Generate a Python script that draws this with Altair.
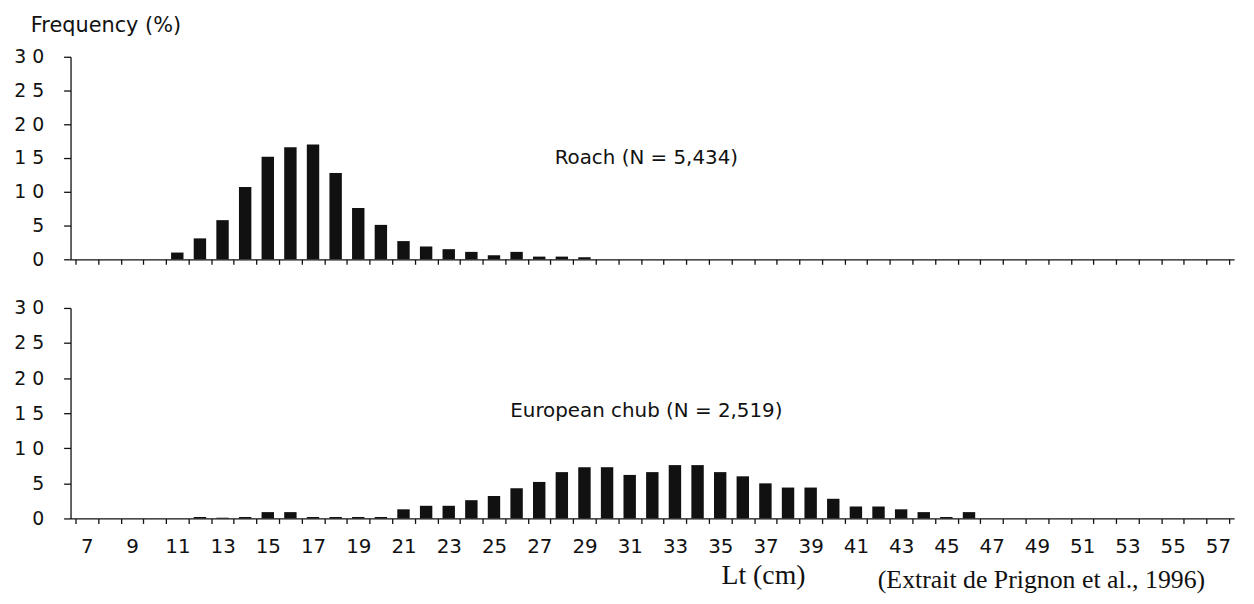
import altair as alt
import pandas as pd

# Length classes (Lt, cm)
lengths = list(range(7, 58))

# Roach frequencies (%) for classes 7..57
roach = [0, 0, 0, 0, 1.0, 3.1, 5.8, 10.7, 15.2, 16.6, 17.0, 12.8, 7.6, 5.1, 2.7,
         1.9, 1.5, 1.1, 0.6, 1.1, 0.4, 0.4, 0.3] + [0] * 28

# European chub frequencies (%) for classes 7..57
chub = [0, 0, 0, 0, 0, 0.2, 0.1, 0.2, 0.9, 0.9, 0.2, 0.2, 0.2, 0.2, 1.3, 1.8, 1.8,
        2.6, 3.2, 4.3, 5.2, 6.6, 7.3, 7.3, 6.2, 6.6, 7.6, 7.6, 6.6, 6.0, 5.0, 4.4,
        4.4, 2.8, 1.7, 1.7, 1.3, 0.9, 0.2, 0.9] + [0] * 11

y_ticks = [0, 5, 10, 15, 20, 25, 30]
class_edges = [v - 0.5 for v in lengths] + [lengths[-1] + 0.5]

roach_label = "Roach (N = 5,434)"
chub_label = "European chub (N = 2,519)"
x_title = "Lt (cm)"
source = "(Extrait de Prignon et al., 1996)"
y_title = "Frequency (%)"

df_roach = pd.DataFrame({"Lt": lengths, "freq": roach})
df_chub = pd.DataFrame({"Lt": lengths, "freq": chub})

W = 1172
cat_px = W / len(lengths)
SANS = "DejaVu Sans"
SERIF = "Liberation Serif"

x_scale = alt.Scale(domain=[lengths[0] - 0.5, lengths[-1] + 0.5], nice=False, zero=False)
y_scale = alt.Scale(domain=[0, 30], nice=False)


def x_axis(show_labels):
    return alt.Axis(
        values=class_edges,
        labels=show_labels,
        labelExpr="(datum.value - 6.5) % 2 == 0 ? '' + (datum.value + 0.5) : ''",
        labelOffset=cat_px / 2,
        labelFlush=False,
        labelOverlap=False,
        labelFontSize=20,
        labelFont=SANS,
        labelColor="#111",
        labelPadding=13,
        tickSize=5,
        title=None,
        grid=False,
    )


y_axis = alt.Axis(
    values=y_ticks,
    labelExpr="datum.value >= 10 ? floor(datum.value / 10) + ' ' + (datum.value % 10) : datum.label",
    labelFontSize=19,
    labelFont=SANS,
    labelColor="#111",
    labelPadding=20,
    tickSize=7,
    title=None,
    grid=False,
)


def panel(df, label, show_labels, label_y):
    bars = alt.Chart(df).mark_bar(size=12.5, color="#111").encode(
        x=alt.X("Lt:Q", scale=x_scale, axis=x_axis(show_labels)),
        y=alt.Y("freq:Q", scale=y_scale, axis=y_axis),
    )
    txt = alt.Chart(pd.DataFrame({"t": [label]})).mark_text(
        font=SANS, fontSize=20, color="#111", align="center", baseline="middle"
    ).encode(text="t:N", x=alt.value(580), y=alt.value(label_y))
    return bars, txt


b1, t1 = panel(df_roach, roach_label, False, 102)
top = alt.layer(b1, t1).properties(
    width=W, height=204,
    title=alt.TitleParams(y_title, anchor="start", frame="group", dx=-40,
                          font=SANS, fontSize=21, fontWeight="normal", color="#111", offset=12),
)

b2, t2 = panel(df_chub, chub_label, True, 104)
lt = alt.Chart(pd.DataFrame({"t": [x_title]})).mark_text(
    font=SERIF, fontSize=28, color="#111", align="center", baseline="alphabetic"
).encode(text="t:N", x=alt.value(698), y=alt.value(278))
src = alt.Chart(pd.DataFrame({"t": [source]})).mark_text(
    font=SERIF, fontSize=26, color="#111", align="center", baseline="alphabetic"
).encode(text="t:N", x=alt.value(978), y=alt.value(282))
bottom = alt.layer(b2, t2, lt, src).properties(width=W, height=212)

chart = alt.vconcat(top, bottom, spacing=30).properties(
    padding={"left": 5, "top": 5, "right": 5, "bottom": 0}
).configure_view(stroke=None).configure_axis(
    domainColor="#111", tickColor="#111", domainWidth=1.3, tickWidth=1.3
)

chart.save("out.html", embed_options={"renderer": "svg", "actions": False})
